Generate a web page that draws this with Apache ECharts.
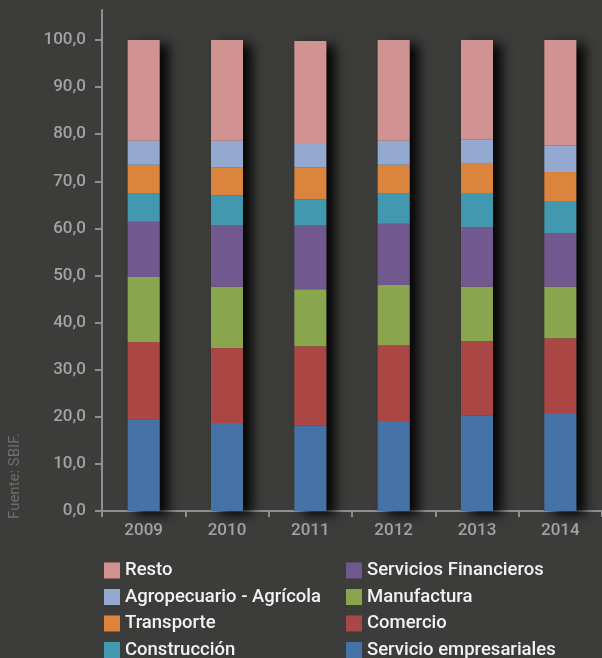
<!DOCTYPE html>
<html>
<head>
<meta charset="utf-8">
<script src="https://cdn.jsdelivr.net/npm/echarts@6/dist/echarts.min.js"></script>
<style>
  html, body { margin: 0; padding: 0; background: #3c3c3b; }
  #chart { width: 602px; height: 658px; }
</style>
</head>
<body>
<div id="chart"></div>
<script>
// Composición de colocaciones por sector (%), 2009-2014
const years = ['2009', '2010', '2011', '2012', '2013', '2014'];
const servicioEmpresariales = [19.5, 18.7, 18.1, 19.1, 20.2, 20.8];
const comercio              = [16.4, 15.9, 16.9, 16.1, 15.9, 15.9];
const manufactura           = [13.8, 13.0, 12.1, 12.8, 11.5, 10.9];
const serviciosFinancieros  = [11.7, 13.1, 13.5, 13.0, 12.6, 11.4];
const construccion          = [6.0, 6.3, 5.6, 6.4, 7.3, 6.8];
const transporte            = [6.1, 6.0, 6.8, 6.1, 6.4, 6.2];
const agropecuario          = [5.1, 5.6, 4.9, 5.1, 4.9, 5.6];
const resto                 = [21.4, 21.4, 21.9, 21.4, 21.2, 22.4];
const yTicks = [0, 10, 20, 30, 40, 50, 60, 70, 80, 90, 100];

const stacked = [
  { name: 'Servicio empresariales', data: servicioEmpresariales, color: '#4572a7' },
  { name: 'Comercio',               data: comercio,              color: '#aa4643' },
  { name: 'Manufactura',            data: manufactura,           color: '#89a54e' },
  { name: 'Servicios Financieros',  data: serviciosFinancieros,  color: '#71588f' },
  { name: 'Construcción',           data: construccion,          color: '#4198af' },
  { name: 'Transporte',             data: transporte,            color: '#db843d' },
  { name: 'Agropecuario - Agrícola',data: agropecuario,          color: '#93a9cf' },
  { name: 'Resto',                  data: resto,                 color: '#d19392' }
];

// total height of each column, used for the drop shadow behind the stack
const totals = years.map((_, i) => stacked.reduce((s, d) => s + d.data[i], 0));

const labelFont = { fontFamily: 'Roboto', fontSize: 17, fontWeight: 500 };
const axisColor = '#8f8f8f';
const legendText = { color: '#f2f2f2', fontFamily: 'Roboto', fontSize: 18.5, fontWeight: 500, lineHeight: 16 };

const chart = echarts.init(document.getElementById('chart'));

const series = [{
  name: 'sombra',
  type: 'bar',
  stack: 'sombra',
  xAxisIndex: 0, yAxisIndex: 0,
  barWidth: 32,
  barGap: '-100%',
  data: totals,
  silent: true,
  itemStyle: {
    color: '#3c3c3b',
    shadowColor: 'rgba(0,0,0,0.9)',
    shadowBlur: 12,
    shadowOffsetX: 9,
    shadowOffsetY: 4
  },
  z: 1
}].concat(stacked.map(s => ({
  name: s.name,
  type: 'bar',
  stack: 'total',
  xAxisIndex: 0, yAxisIndex: 0,
  barWidth: 32,
  barGap: '-100%',
  data: s.data,
  itemStyle: { color: s.color },
  z: 2
})));

function legendColumn(left, names) {
  return {
    orient: 'vertical',
    left: left,
    top: 561,
    height: 120,
    padding: 0,
    itemWidth: 16,
    itemHeight: 16,
    itemGap: 7.5,
    icon: 'rect',
    selectedMode: false,
    data: names,
    textStyle: legendText
  };
}

chart.setOption({
  backgroundColor: '#3c3c3b',
  animation: false,
  grid: [
    { left: 102, top: 40, width: 505, height: 471 },
    { left: 102, top: 10, width: 505, height: 501 }
  ],
  xAxis: [{
    type: 'category',
    gridIndex: 0,
    data: years,
    axisLine: { lineStyle: { color: axisColor, width: 2 } },
    axisTick: { show: true, length: 6, lineStyle: { color: axisColor, width: 2 } },
    axisLabel: Object.assign({ color: '#a3a3a3', margin: 11 }, labelFont),
    splitLine: { show: false }
  }, {
    type: 'category',
    gridIndex: 1,
    data: years,
    show: false
  }],
  yAxis: [{
    type: 'value',
    gridIndex: 0,
    min: yTicks[0],
    max: yTicks[yTicks.length - 1],
    interval: 10,
    axisLine: { show: true, lineStyle: { color: axisColor, width: 2 } },
    axisTick: { show: true, length: 7, lineStyle: { color: axisColor, width: 2 } },
    axisLabel: Object.assign({
      color: '#a3a3a3',
      margin: 16,
      formatter: v => v.toFixed(1).replace('.', ',')
    }, labelFont),
    splitLine: { show: false }
  }, {
    type: 'value',
    gridIndex: 1,
    min: 0,
    max: 1,
    axisLine: { show: true, lineStyle: { color: axisColor, width: 2 } },
    axisTick: { show: false },
    axisLabel: { show: false },
    splitLine: { show: false }
  }],
  legend: [
    legendColumn(104, ['Resto', 'Agropecuario - Agrícola', 'Transporte', 'Construcción']),
    legendColumn(346, ['Servicios Financieros', 'Manufactura', 'Comercio', 'Servicio empresariales'])
  ],
  graphic: [{
    type: 'text',
    x: 15,
    y: 519,
    rotation: Math.PI / 2,
    style: {
      text: 'Fuente: SBIF.',
      fill: '#6e6e6e',
      font: '15px Roboto',
      textAlign: 'left',
      textVerticalAlign: 'middle'
    }
  }],
  series: series
});
</script>
</body>
</html>
